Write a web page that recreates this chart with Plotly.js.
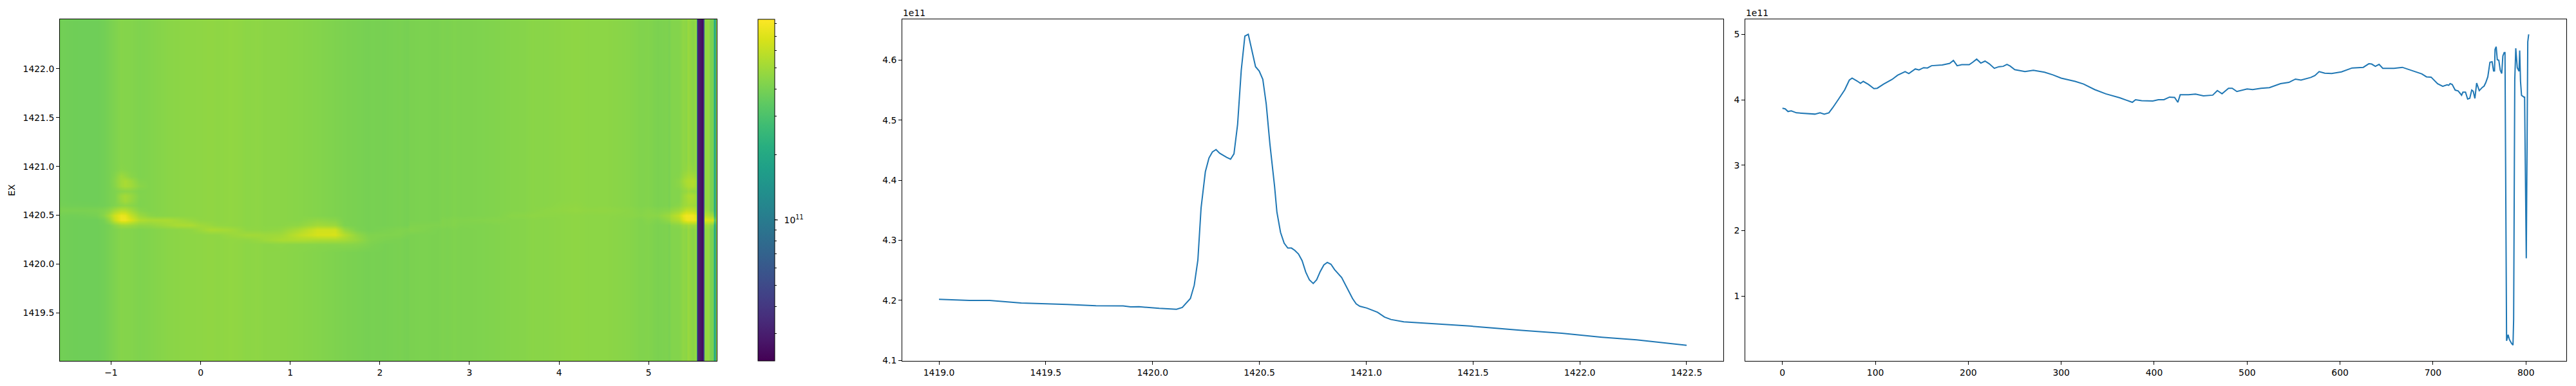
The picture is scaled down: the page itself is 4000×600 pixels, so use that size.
<!DOCTYPE html>
<html>
<head>
<meta charset="utf-8">
<script src="https://cdn.plot.ly/plotly-3.0.1.min.js"></script>
<style>html,body{margin:0;padding:0;background:#fff}</style>
</head>
<body>
<div id="chart" style="width:4000px;height:600px"></div>
<script>
// Panel 2: intensity against EX (values in units of 1e11)
const exAxisValues = [1419,1419.143,1419.237,1419.385,1419.6,1419.735,1419.862,1419.897,1419.937,1420.031,1420.112,1420.139,1420.177,1420.195,1420.212,1420.227,1420.239,1420.247,1420.264,1420.28,1420.297,1420.314,1420.347,1420.365,1420.381,1420.398,1420.415,1420.432,1420.448,1420.465,1420.482,1420.499,1420.516,1420.532,1420.549,1420.571,1420.582,1420.599,1420.616,1420.633,1420.65,1420.666,1420.683,1420.7,1420.717,1420.734,1420.752,1420.768,1420.785,1420.802,1420.818,1420.835,1420.852,1420.885,1420.919,1420.936,1420.953,1420.97,1421.003,1421.053,1421.086,1421.116,1421.176,1421.377,1421.485,1421.728,1421.916,1422.104,1422.266,1422.5];
const exIntensity = [4.2016,4.1996,4.1996,4.1955,4.193,4.191,4.1906,4.189,4.1893,4.1865,4.185,4.188,4.203,4.225,4.267,4.354,4.39,4.414,4.437,4.447,4.451,4.445,4.438,4.435,4.444,4.493,4.583,4.64,4.643,4.615,4.589,4.582,4.568,4.527,4.461,4.39,4.347,4.313,4.295,4.287,4.287,4.283,4.277,4.266,4.247,4.234,4.228,4.234,4.248,4.259,4.263,4.26,4.251,4.238,4.215,4.203,4.194,4.19,4.187,4.18,4.172,4.168,4.164,4.1595,4.157,4.15,4.145,4.1385,4.134,4.125];

// Panel 3: intensity against sample index (values in units of 1e11)
const sampleIndex = [0,3,6,9.5,15,26,35,40.5,45,50,54,60,67,72,75,80.5,84,87,92.5,98.5,102,109,118,124,132,136,143,147,152,156,160.5,172,180,184,188,193,201,205,209,213.5,218,222.5,228,233,237.5,241.6,245,250,261,270,282,291,300,315,324,336,348,363,376.5,380,386.5,398.5,404.5,410.5,416.5,422,425.5,428,437,444.5,453,463,468,473,480,484,489,500,506,515,524,536,545,552,558,568.5,573,577.5,583.5,591,601.5,613,625,631,634,638,642,646,658,667,676,688,693,698,705,710.5,715.2,717,718.4,720.7,723.9,727.1,730.8,732.2,735,737.3,739.6,741.7,743.3,745.1,747,749.8,753.2,754.9,756.7,759,761.3,763.6,765.2,766.2,766.8,768,769.2,770.8,772.4,774,775.2,776.6,777.5,779.2,780.8,782.2,784.5,786.1,786.8,788,789.1,790.7,792.6,793.3,794.2,795.3,797.9,798.6,800.4,802,803];
const sampleIntensity = [3.87,3.86,3.82,3.83,3.8,3.79,3.78,3.8,3.78,3.8,3.875,4,4.15,4.3,4.33,4.285,4.25,4.28,4.235,4.17,4.175,4.24,4.31,4.375,4.43,4.4,4.47,4.455,4.49,4.485,4.52,4.53,4.555,4.6,4.52,4.535,4.535,4.575,4.62,4.56,4.59,4.55,4.48,4.505,4.51,4.54,4.515,4.46,4.43,4.45,4.42,4.38,4.33,4.28,4.24,4.155,4.09,4.03,3.96,4,3.985,3.98,4,4,4.04,4.035,3.96,4.075,4.075,4.085,4.06,4.07,4.14,4.09,4.175,4.175,4.125,4.165,4.155,4.175,4.185,4.245,4.265,4.315,4.3,4.34,4.37,4.43,4.405,4.4,4.425,4.485,4.495,4.55,4.545,4.51,4.54,4.48,4.48,4.495,4.45,4.395,4.35,4.345,4.245,4.205,4.229,4.22,4.246,4.232,4.147,4.134,4.069,4.115,4.115,4.01,4.023,4.147,4.13,4.02,4.255,4.138,4.19,4.206,4.258,4.35,4.573,4.58,4.44,4.44,4.77,4.81,4.61,4.605,4.45,4.4,4.67,4.72,4.72,0.316,0.408,0.335,0.277,0.25,0.64,4.3,4.786,4.49,4.435,4.753,4.28,4.066,4.04,4.04,1.577,4.885,5];

// Panel 1: heatmap columns, rows, the level of each column away from the bright band, and
// the extra brightness read per cell along the band (column number: extra, 1e11 units)
const heatX = [-1.572,-1.435,-1.298,-1.161,-1.079,-1.024,-0.96,-0.887,-0.842,-0.778,-0.677,-0.577,-0.495,-0.367,-0.266,-0.111,-0.002,0.108,0.19,0.336,0.455,0.51,0.638,0.711,0.893,1.085,1.304,1.496,1.605,1.742,1.87,1.897,2.062,2.226,2.308,2.336,2.491,2.655,2.701,2.747,2.829,2.893,3.13,3.322,3.468,3.614,3.696,3.824,4.025,4.189,4.326,4.518,4.71,4.801,4.911,4.993,5.102,5.203,5.23,5.248,5.339,5.385,5.421,5.44,5.467,5.495,5.527,5.542,5.604,5.613,5.622,5.64,5.668,5.689,5.719,5.736,5.75,5.76];
const columnLevels = [3.87,3.8,3.79,3.78,3.875,4,4.15,4.33,4.285,4.28,4.17,4.24,4.31,4.43,4.47,4.52,4.53,4.6,4.535,4.62,4.55,4.48,4.54,4.46,4.45,4.38,4.28,4.155,4.09,4.03,3.96,4,3.98,4.04,3.96,4.075,4.085,4.07,4.14,4.09,4.175,4.125,4.175,4.245,4.315,4.34,4.43,4.4,4.485,4.55,4.48,4.495,4.395,4.345,4.205,4.25,4.07,4.15,4.02,4.255,4.26,4.58,4.44,4.81,4.6,4.4,4.72,0.32,0.25,0.64,4.6,4.6,4.75,4.07,4.04,1.58,4.885,5];
const heatY = [1419,1420.12,1420.2,1420.25,1420.3,1420.35,1420.4,1420.45,1420.5,1420.55,1420.6,1420.65,1420.7,1420.75,1420.8,1420.85,1420.9,1420.97,1421.05,1422.5];
const heatExcess = [
  {},
  {},
  {24:.05,25:.05,26:.1,27:.2,28:.3,29:.3,30:.2,31:.1},
  {20:.05,21:.1,22:.2,23:.45,24:.8,25:1,26:1,27:1.1,28:1,29:.7,30:.3,31:.2,32:.1},
  {18:.05,19:.2,20:.4,21:.55,22:.5,23:.45,24:.55,25:1.5,26:2.4,27:2.6,28:1.5,29:.6,30:.2,31:.2,32:.2,33:.15,34:.1},
  {15:.05,16:.35,17:.7,18:.7,19:.45,20:.2,21:.1,22:.05,23:.05,24:.2,25:.9,26:2.2,27:2.3,28:.7,29:.1,32:.1,33:.15,34:.2,35:.2,36:.1},
  {6:.3,7:.6,8:.7,9:.6,10:.4,11:.35,12:.45,13:.6,14:.8,15:.8,16:.45,17:.2,18:.1,25:.2,26:.8,27:.7,28:.05,35:.1,36:.1,37:.1,38:.1,39:.1,40:.1,41:.05,59:.1,60:.2,61:.3,62:.4,63:.3,64:.4,65:.5,66:.3,70:.3,71:.3,72:.3,73:.4,74:.4,76:.2,77:.2},
  {4:.1,5:.6,6:2,7:3.3,8:3.4,9:2.5,10:1.3,11:1,12:.95,13:.85,14:.6,15:.25,16:.05,26:.35,27:.25,38:.1,39:.1,40:.1,41:.1,42:.1,43:.1,55:.1,56:.1,57:.4,58:.6,59:.8,60:1.2,61:2.3,62:3.1,63:2.9,64:3,65:3.3,66:2.6,70:2.3,71:2.3,72:2.1,73:2.5,74:2.6,75:1,76:1,77:.8},
  {0:.05,1:.05,2:.1,3:.2,4:.5,5:1.1,6:2.3,7:3.2,8:3.1,9:1.8,10:.7,11:.25,12:.05,44:.1,45:.1,46:.1,47:.1,52:.05,53:.1,54:.15,55:.2,56:.35,57:.7,58:.85,59:1,60:1.7,61:2.8,62:3.4,63:3,64:3.3,65:3.3,66:2.4,70:1,71:1,72:.8,73:1,74:1,75:.2,76:.3,77:.3},
  {0:.2,1:.25,2:.25,3:.3,4:.35,5:.5,6:1,7:1.4,8:1.4,9:.85,10:.2,47:.1,48:.1,49:.1,50:.1,51:.1,52:.1,53:.1,54:.1,55:.15,56:.2,57:.25,58:.35,59:.4,60:.7,61:1,62:1.6,63:1.2,64:1.4,65:1.5,66:.9,70:.2,71:.2,72:.1},
  {0:.05,1:.05,2:.05,3:.05,6:.05,7:.15,8:.25,9:.15,48:.05,49:.05,60:.15,61:.3,62:.5,63:.35,64:.5,65:.6,66:.25},
  {7:.45,8:.75,9:.45,61:.25,62:.55,63:.4,64:.65,65:.75,66:.3},
  {7:.55,8:.8,9:.5,10:.05,61:.25,62:.65,63:.5,64:.75,65:.85,66:.3},
  {7:.05,8:.15,9:.15,61:.05,62:.2,63:.15,64:.2,65:.2,66:.05},
  {6:.2,7:.7,8:.95,9:.75,10:.25,60:.15,61:.3,62:.75,63:.55,64:.8,65:1,66:.4},
  {6:.25,7:.7,8:.95,9:.65,10:.1,60:.2,61:.5,62:.9,63:.65,64:.9,65:1.1,66:.5},
  {6:.15,7:.6,8:.45,9:.15,60:.05,61:.25,62:.55,63:.4,64:.55,65:.65,66:.2},
  {7:.05,8:.05,62:.15,63:.05,64:.15,65:.15},
  {},
  {}
];
const colorbarMinorValues = [3e10,4e10,5e10,6e10,7e10,8e10,9e10,2e11,3e11,4e11,5e11,6e11,7e11,8e11];
const colorbarMajorValue = 1e11;
const colorbarLow = 2.25e10;
const colorbarHigh = 8.36e11;

const log10 = Math.log10;
const heatZ = heatExcess.map(row => columnLevels.map((level, c) => log10((level + (row[c] || 0)) * 1e11)));
const barTicks = colorbarMinorValues.concat([colorbarMajorValue]).map(log10);
const barLabels = barTicks.map(t => t === 11 ? '\u00a0\u00a010<sup>11</sup>' : ' ');
const FONT = {family: 'DejaVu Sans', size: 13.9, color: '#000'};
const W = 4000, H = 600;
const TOP = 30, BOTTOM = 561;
const yDomain = [(H - BOTTOM) / H, (H - TOP) / H];
const barMajorY = yDomain[0] + (yDomain[1] - yDomain[0]) * (11 - log10(colorbarLow)) / (log10(colorbarHigh) - log10(colorbarLow));
const axisStyle = {
  showgrid: false, zeroline: false, showline: true, linecolor: '#000', linewidth: 1,
  mirror: true, ticks: 'outside', ticklen: 5, tickwidth: 1, tickcolor: '#000',
  tickfont: FONT, automargin: false
};

const traces = [
  {type: 'heatmap', x: heatX, y: heatY, z: heatZ, xaxis: 'x', yaxis: 'y', zsmooth: 'best',
   colorscale: 'Viridis', zmin: log10(colorbarLow), zmax: log10(colorbarHigh),
   colorbar: {x: 1177 / W, xanchor: 'left', xpad: 0, ypad: 0, y: yDomain[0], yanchor: 'bottom',
     len: yDomain[1] - yDomain[0], lenmode: 'fraction', thickness: 26, thicknessmode: 'pixels',
     tickmode: 'array', tickvals: barTicks, ticktext: barLabels, ticks: 'outside', ticklen: 3,
     tickwidth: 1, tickcolor: '#000', outlinecolor: '#000', outlinewidth: 1, tickfont: FONT}},
  {type: 'scatter', mode: 'lines', x: exAxisValues, y: exIntensity, xaxis: 'x2', yaxis: 'y2',
   line: {color: '#1f77b4', width: 2}, showlegend: false},
  {type: 'scatter', mode: 'lines', x: sampleIndex, y: sampleIntensity, xaxis: 'x3', yaxis: 'y3',
   line: {color: '#1f77b4', width: 2}, showlegend: false}
];

const layout = {
  width: W, height: H, margin: {l: 0, r: 0, t: 0, b: 0}, paper_bgcolor: '#fff', plot_bgcolor: '#fff',
  font: FONT, showlegend: false,
  xaxis: Object.assign({}, axisStyle, {domain: [93 / W, 1113 / W], range: [-1.571, 5.76], tickmode: 'array', tickvals: [-1,0,1,2,3,4,5], ticktext: ['\u22121','0','1','2','3','4','5']}),
  yaxis: Object.assign({}, axisStyle, {domain: yDomain, range: [1419.009, 1422.506], tickvals: [1419.5,1420,1420.5,1421,1421.5,1422], tickformat: '.1f', title: {text: 'EX', font: FONT, standoff: 8}}),
  xaxis2: Object.assign({}, axisStyle, {domain: [1401 / W, 2676 / W], range: [1418.828, 1422.672], anchor: 'y2', tickvals: [1419,1419.5,1420,1420.5,1421,1421.5,1422,1422.5], tickformat: '.1f'}),
  yaxis2: Object.assign({}, axisStyle, {domain: yDomain, range: [4.099, 4.668], anchor: 'x2', tickvals: [4.1,4.2,4.3,4.4,4.5,4.6], tickformat: '.1f'}),
  xaxis3: Object.assign({}, axisStyle, {domain: [2710 / W, 3985 / W], range: [-40, 843.5], anchor: 'y3', tickvals: [0,100,200,300,400,500,600,700,800]}),
  yaxis3: Object.assign({}, axisStyle, {domain: yDomain, range: [0.008, 5.229], anchor: 'x3', tickvals: [1,2,3,4,5]}),
  shapes: [
    {type: 'line', xref: 'paper', yref: 'paper', x0: 1203 / W, x1: 1208 / W, y0: barMajorY, y1: barMajorY, line: {color: '#000', width: 1}}
  ],
  annotations: [
    {xref: 'paper', yref: 'paper', x: 1401 / W, y: yDomain[1], xanchor: 'left', yanchor: 'bottom', yshift: 1, text: '1e11', showarrow: false, font: FONT, borderpad: 0},
    {xref: 'paper', yref: 'paper', x: 2710 / W, y: yDomain[1], xanchor: 'left', yanchor: 'bottom', yshift: 1, text: '1e11', showarrow: false, font: FONT, borderpad: 0}
  ]
};
Plotly.newPlot('chart', traces, layout, {displayModeBar: false, staticPlot: true});
</script>
</body>
</html>
